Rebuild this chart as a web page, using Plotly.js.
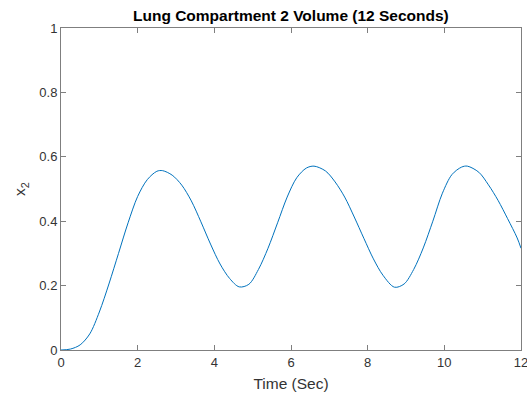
<!DOCTYPE html>
<html>
<head>
<meta charset="utf-8">
<script src="https://cdn.plot.ly/plotly-3.0.1.min.js"></script>
<style>html,body{margin:0;padding:0;background:#fff;}#chart{width:527px;height:402px;}</style>
</head>
<body>
<div id="chart"></div>
<script>
const timeSec = [0, 0.25, 0.5, 0.75, 1.0, 1.25, 1.5, 1.75, 2.0, 2.25, 2.5, 2.65, 2.9, 3.15, 3.4, 3.65, 3.9, 4.15, 4.4, 4.65, 4.9, 5.15, 5.4, 5.65, 5.9, 6.15, 6.4, 6.6, 6.9, 7.15, 7.4, 7.65, 7.9, 8.15, 8.4, 8.7, 8.95, 9.2, 9.45, 9.7, 9.95, 10.2, 10.45, 10.6, 10.9, 11.15, 11.4, 11.65, 11.9, 12];
const x2Volume = [0, 0.003, 0.016, 0.05, 0.118, 0.205, 0.30, 0.395, 0.477, 0.529, 0.555, 0.557, 0.543, 0.512, 0.463, 0.398, 0.329, 0.267, 0.222, 0.196, 0.204, 0.25, 0.316, 0.395, 0.475, 0.535, 0.565, 0.571, 0.556, 0.522, 0.475, 0.413, 0.347, 0.283, 0.232, 0.195, 0.205, 0.25, 0.317, 0.400, 0.487, 0.545, 0.568, 0.571, 0.552, 0.513, 0.465, 0.408, 0.348, 0.316];
const xTicks = [0, 2, 4, 6, 8, 10, 12];
const yTicks = [0, 0.2, 0.4, 0.6, 0.8, 1];
const yTickLabels = ['0', '0.2', '0.4', '0.6', '0.8', '1'];

const axisColor = '#7f7f7f';
const textColor = '#333333';
const font = 'Liberation Sans, Arial, Helvetica, sans-serif';

const trace = {
  x: timeSec, y: x2Volume, type: 'scatter', mode: 'lines',
  line: {color: '#0072BD', width: 1, shape: 'spline', smoothing: 0.9},
  hoverinfo: 'skip'
};

const layout = {
  width: 527, height: 402,
  margin: {l: 61, r: 6, t: 28, b: 52},
  paper_bgcolor: '#ffffff', plot_bgcolor: '#ffffff',
  showlegend: false,
  title: {text: '<b>Lung Compartment 2 Volume (12 Seconds)</b>', x: 0.552, xanchor: 'center', y: 0.962, yanchor: 'middle',
          font: {family: font, size: 15.5, color: '#000000'}},
  xaxis: {
    range: [0, 12], tickvals: xTicks, ticktext: xTicks.map(String),
    showgrid: false, zeroline: false, showline: true, linecolor: axisColor, linewidth: 1,
    mirror: 'ticks', ticks: 'inside', ticklen: 5, tickcolor: axisColor, tickwidth: 1,
    ticklabeloverflow: 'allow',
    tickfont: {family: font, size: 13, color: textColor},
    title: {text: 'Time (Sec)', font: {family: font, size: 15.5, color: textColor}, standoff: 9}
  },
  yaxis: {
    range: [0, 1], tickvals: yTicks, ticktext: yTickLabels,
    showgrid: false, zeroline: false, showline: true, linecolor: axisColor, linewidth: 1,
    mirror: 'ticks', ticks: 'inside', ticklen: 5, tickcolor: axisColor, tickwidth: 1,
    ticklabeloverflow: 'allow',
    tickfont: {family: font, size: 13, color: textColor},
    title: {text: 'x<sub>2</sub>', font: {family: font, size: 15.5, color: textColor}, standoff: 9}
  }
};

Plotly.newPlot('chart', [trace], layout, {staticPlot: true, displayModeBar: false});
</script>
</body>
</html>
